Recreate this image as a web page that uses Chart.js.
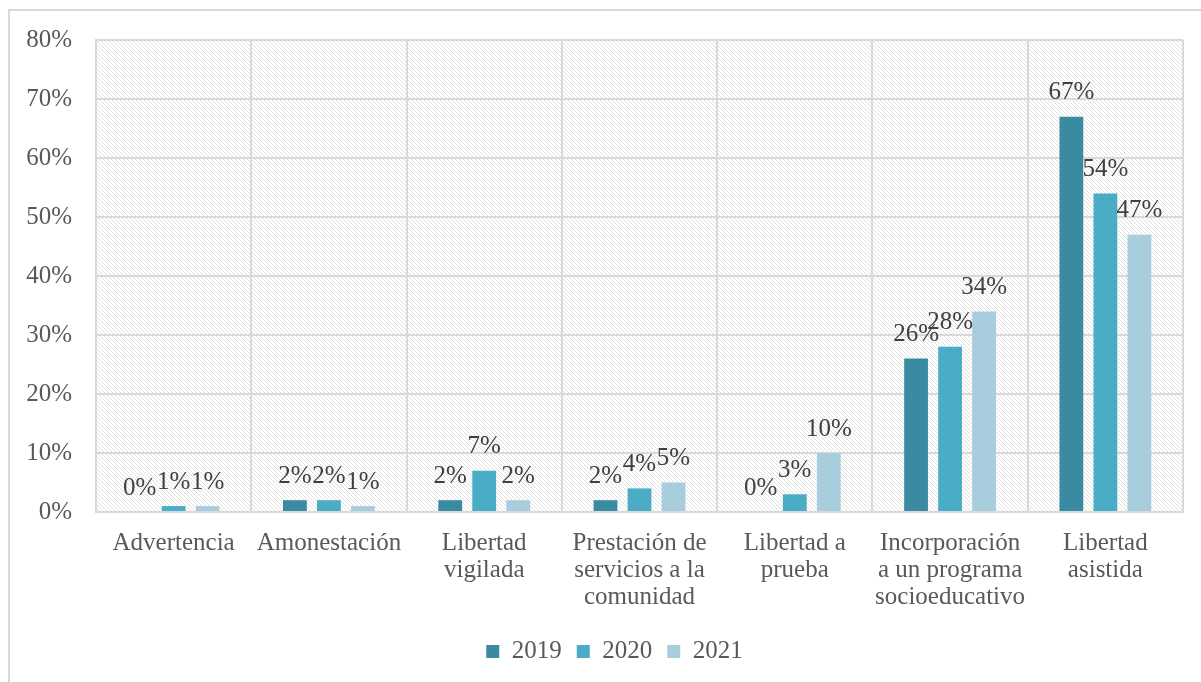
<!DOCTYPE html>
<html>
<head>
<meta charset="utf-8">
<script src="https://cdn.jsdelivr.net/npm/chart.js@4.4.1/dist/chart.umd.min.js"></script>
<style>
  html, body { margin: 0; padding: 0; background: #fff; overflow: hidden; width: 1201px; height: 682px; }
  #frame { position: absolute; left: 8px; top: 9px; width: 1300px; height: 800px; border: 2px solid #d9d9d9; box-sizing: border-box; }
  #c { position: absolute; left: 0; top: 0; }
</style>
</head>
<body>
<div id="frame"></div>
<canvas id="c" width="1201" height="682"></canvas>
<script>
const categories = [
  ["Advertencia"],
  ["Amonestación"],
  ["Libertad", "vigilada"],
  ["Prestación de", "servicios a la", "comunidad"],
  ["Libertad a", "prueba"],
  ["Incorporación", "a un programa", "socioeducativo"],
  ["Libertad", "asistida"]
];
const seriesNames = ["2019", "2020", "2021"];
const values2019 = [0, 2, 2, 2, 0, 26, 67];
const values2020 = [1, 2, 7, 4, 3, 28, 54];
const values2021 = [1, 1, 2, 5, 10, 34, 47];
const yTicks = [0, 10, 20, 30, 40, 50, 60, 70, 80];

const colors = ["#3A8BA1", "#4BACC6", "#A8CEDD"];
const SERIF = "'Liberation Serif', 'DejaVu Serif', serif";

// hatch pattern
const pc = document.createElement('canvas');
pc.width = 4; pc.height = 4;
const pg = pc.getContext('2d');
pg.fillStyle = '#ffffff'; pg.fillRect(0, 0, 4, 4);
pg.fillStyle = '#e0e0e0';
for (let i = 0; i < 4; i++) pg.fillRect(i, i, 1, 1);

const hatchPlugin = {
  id: 'hatch',
  beforeDraw(chart) {
    const { ctx, chartArea: a } = chart;
    ctx.save();
    ctx.fillStyle = ctx.createPattern(pc, 'repeat');
    ctx.fillRect(a.left, a.top, a.right - a.left, a.bottom - a.top);
    ctx.restore();
  }
};

const legendShift = {
  id: 'legendShift',
  afterLayout(chart) {
    if (chart.legend) { chart.legend.left += 23; chart.legend.right += 23; }
  }
};

const labelPlugin = {
  id: 'valueLabels',
  afterDatasetsDraw(chart) {
    const ctx = chart.ctx;
    ctx.save();
    ctx.font = "25px " + SERIF;
    ctx.fillStyle = '#404040';
    ctx.textAlign = 'center';
    ctx.textBaseline = 'middle';
    chart.data.datasets.forEach((ds, di) => {
      const meta = chart.getDatasetMeta(di);
      meta.data.forEach((el, i) => {
        ctx.fillText(ds.data[i] + '%', el.x, el.y - 24);
      });
    });
    ctx.restore();
  }
};

new Chart(document.getElementById('c'), {
  type: 'bar',
  data: {
    labels: categories,
    datasets: [
      { label: seriesNames[0], data: values2019, backgroundColor: colors[0], borderWidth: 0 },
      { label: seriesNames[1], data: values2020, backgroundColor: colors[1], borderWidth: 0 },
      { label: seriesNames[2], data: values2021, backgroundColor: colors[2], borderWidth: 0 }
    ]
  },
  options: {
    responsive: false,
    animation: false,
    devicePixelRatio: 1,
    categoryPercentage: 0.657,
    barPercentage: 0.7,
    layout: { padding: { left: 0, right: 18, top: 40, bottom: 8 } },
    plugins: {
      legend: {
        position: 'bottom',
        labels: {
          boxWidth: 13, boxHeight: 13, padding: 15,
          color: '#595959',
          font: { family: SERIF, size: 25 }
        }
      },
      tooltip: { enabled: false }
    },
    scales: {
      x: {
        grid: { color: '#d9d9d9', lineWidth: 2, drawTicks: false, offset: true },
        border: { color: '#d9d9d9', width: 2 },
        ticks: {
          color: '#595959', padding: 18, maxRotation: 0, autoSkip: false,
          font: { family: SERIF, size: 25, lineHeight: 1.08 }
        },
        afterFit(s) { s.height = 112; }
      },
      y: {
        min: 0, max: 80,
        afterBuildTicks(s) { s.ticks = yTicks.map(v => ({ value: v })); },
        grid: { color: '#d9d9d9', lineWidth: 2, drawTicks: false },
        border: { color: '#d9d9d9', width: 2 },
        ticks: {
          color: '#595959', padding: 24,
          font: { family: SERIF, size: 25 },
          callback: v => v + '%'
        },
        afterFit(s) { s.width = 96; }
      }
    }
  },
  plugins: [hatchPlugin, legendShift, labelPlugin]
});
</script>
</body>
</html>
